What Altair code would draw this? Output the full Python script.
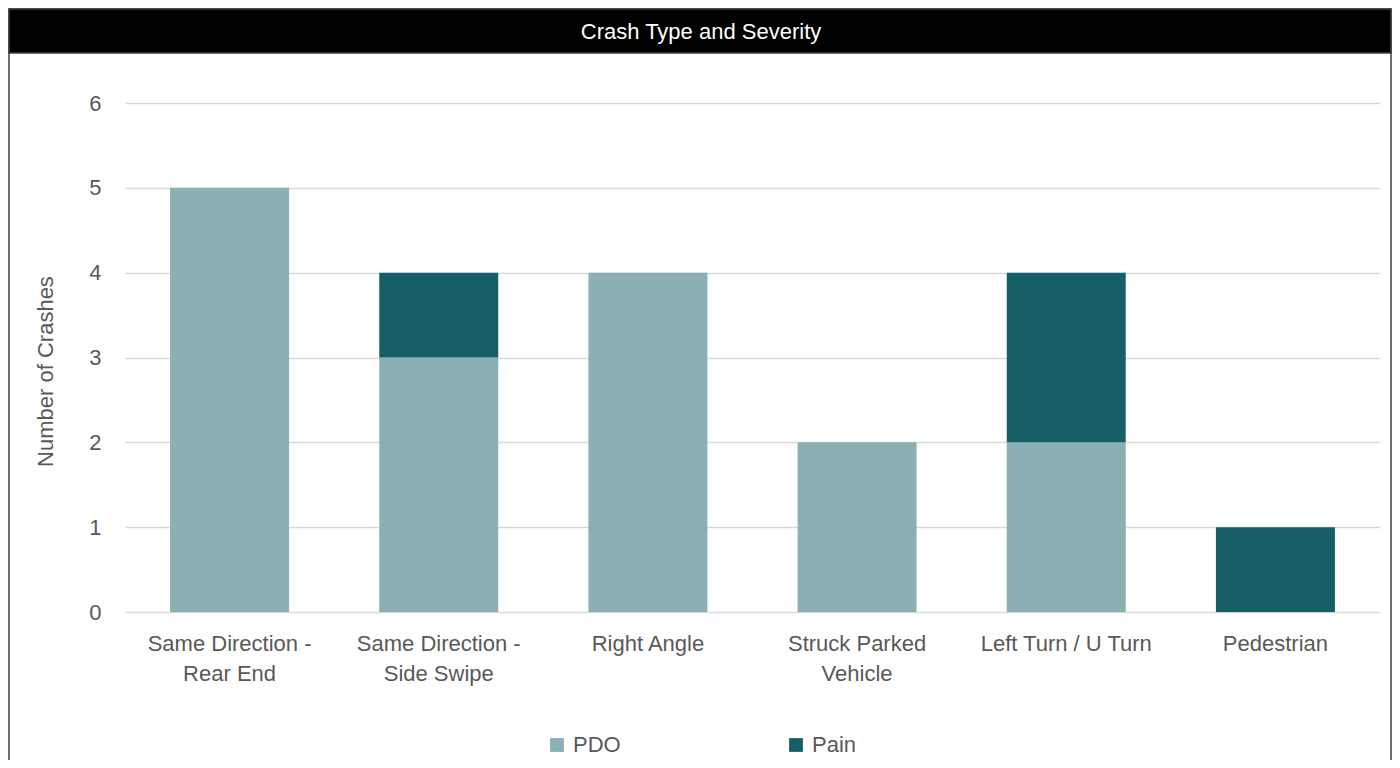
import altair as alt
import pandas as pd

categories = [
    "Same Direction -\nRear End",
    "Same Direction -\nSide Swipe",
    "Right Angle",
    "Struck Parked\nVehicle",
    "Left Turn / U Turn",
    "Pedestrian",
]
severities = ["PDO", "Pain"]
pdo = [5, 3, 4, 2, 2, 0]
pain = [0, 1, 0, 0, 2, 1]
colors = ["#8AB0B4", "#165F66"]

rows = []
for c, a, b in zip(categories, pdo, pain):
    rows.append({"cat": c, "sev": "PDO", "n": a, "ord": 0})
    rows.append({"cat": c, "sev": "Pain", "n": b, "ord": 1})
df = pd.DataFrame(rows)

FONT = "Liberation Sans Narrow, Arial Narrow, Liberation Sans, Arial, sans-serif"
TXT = "#595959"
W, H = 1255, 509

one = alt.Data(values=[{"a": 1}])

frame = alt.Chart(one).mark_rect(fillOpacity=0, stroke="#404040", strokeWidth=1.5, clip=False).encode(
    x=alt.value(-116), x2=alt.value(1266), y=alt.value(-94), y2=alt.value(680)
)
bar_head = alt.Chart(one).mark_rect(fill="black", stroke="#404040", strokeWidth=1.5, clip=False).encode(
    x=alt.value(-116), x2=alt.value(1266), y=alt.value(-94), y2=alt.value(-50)
)
head_text = alt.Chart(one).mark_text(
    text="Crash Type and Severity", color="white", font=FONT, fontSize=22,
    align="center", baseline="middle", clip=False
).encode(x=alt.value(576), y=alt.value(-71))

bars = alt.Chart(df).mark_bar(size=119).encode(
    x=alt.X("cat:N", sort=categories, title=None,
            scale=alt.Scale(paddingInner=0.43, paddingOuter=0.215),
            axis=alt.Axis(labelAngle=0, labelExpr="split(datum.label, '\\n')",
                          labelFont=FONT, labelFontSize=22, labelColor=TXT,
                          labelPadding=21, labelLineHeight=30, ticks=False,
                          domain=False, labelLimit=300)),
    y=alt.Y("n:Q", stack="zero", title="Number of Crashes",
            scale=alt.Scale(domain=[0, 6]),
            axis=alt.Axis(values=[0, 1, 2, 3, 4, 5, 6], format="d", labelFont=FONT,
                          labelFontSize=22, labelColor=TXT, labelPadding=24,
                          ticks=False, domain=False, gridColor="#D9D9D9",
                          gridWidth=1.5, titleFont=FONT, titleFontSize=22,
                          titleFontWeight="normal", titleColor=TXT,
                          titleX=-80, titleY=268, titleAngle=270,
                          titleAlign="center", titleBaseline="middle")),
    color=alt.Color("sev:N", scale=alt.Scale(domain=severities, range=colors),
                    legend=alt.Legend(title=None, orient="none", direction="horizontal",
                                      legendX=421, legendY=631,
                                      symbolType="square", symbolSize=190,
                                      symbolStrokeWidth=0,
                                      labelFont=FONT, labelFontSize=22,
                                      labelColor=TXT, columnPadding=164,
                                      labelOffset=5)),
    order=alt.Order("ord:Q"),
)

chart = alt.layer(frame, bar_head, head_text, bars).properties(
    width=W, height=H,
    background="white",
    autosize=alt.AutoSizeParams(type="none"),
    padding={"left": 117, "top": 95, "right": 12, "bottom": 148},
).configure_view(stroke=None)

chart.save("out.html", embed_options={"renderer": "svg", "actions": False})
